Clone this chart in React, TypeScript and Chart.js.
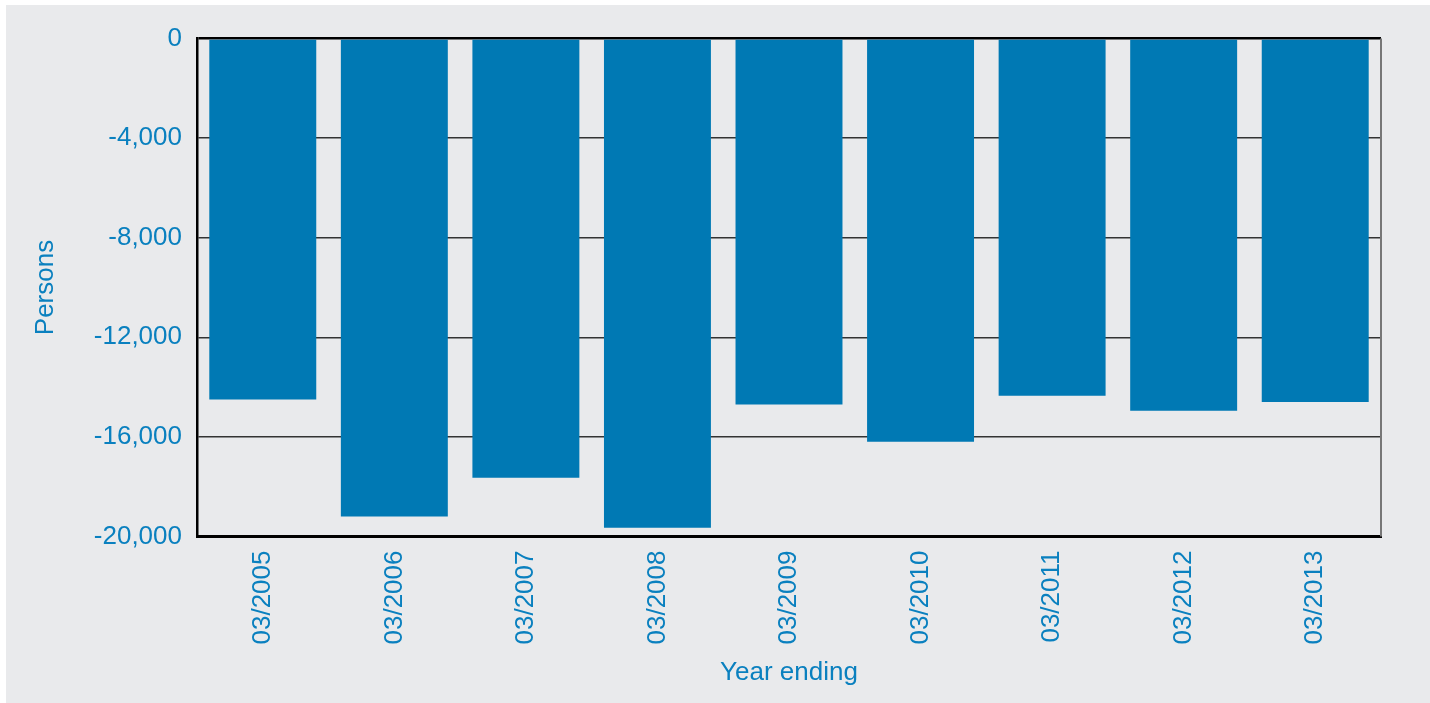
import React, { useEffect, useRef } from "react";
import { Chart, registerables } from "chart.js";

Chart.register(...registerables);

const categories = ["03/2005", "03/2006", "03/2007", "03/2008", "03/2009", "03/2010", "03/2011", "03/2012", "03/2013"];
const persons = [-14500, -19200, -17640, -19650, -14700, -16190, -14350, -14950, -14600];
const yMin = -20000;
const yMax = 0;
const yStep = 4000;

const BAR = "#0079b4";
const TEXT = "#0a80bf";
const BG = "#e9eaec";
const FONT = "'Liberation Sans', Arial, sans-serif";

const rightBorder = {
  id: "rightBorder",
  afterDraw(chart: any) {
    const { ctx, chartArea } = chart;
    ctx.save();
    ctx.strokeStyle = "#777777";
    ctx.lineWidth = 2;
    ctx.beginPath();
    ctx.moveTo(chartArea.right, chartArea.top);
    ctx.lineTo(chartArea.right, chartArea.bottom);
    ctx.stroke();
    ctx.restore();
  },
};

export default function App() {
  const ref = useRef<HTMLCanvasElement>(null);
  useEffect(() => {
    if (!ref.current) return;
    const chart = new Chart(ref.current, {
      type: "bar",
      data: {
        labels: categories,
        datasets: [
          {
            label: "Persons",
            data: persons,
            backgroundColor: BAR,
            borderWidth: 0,
            barPercentage: 0.813,
            categoryPercentage: 1,
          },
        ],
      },
      plugins: [rightBorder],
      options: {
        responsive: false,
        animation: false,
        layout: { padding: { left: 0, right: 49, top: 33.5, bottom: 0 } },
        plugins: {
          legend: { display: false },
          tooltip: { enabled: false },
        },
        scales: {
          x: {
            grid: { display: false, drawTicks: false },
            border: { display: true, color: "#000000", width: 3 },
            ticks: {
              color: TEXT,
              font: { family: FONT, size: 26 },
              minRotation: 90,
              maxRotation: 90,
              padding: 14,
              autoSkip: false,
            },
            title: {
              display: true,
              text: "Year ending",
              color: TEXT,
              font: { family: FONT, size: 26 },
              padding: { top: 0, bottom: 15 },
            },
            afterFit: (scale: any) => {
              scale.height = 166.5;
            },
          },
          y: {
            min: yMin,
            max: yMax,
            grid: {
              drawTicks: false,
              color: (c: any) => (c.tick && c.tick.value === 0 ? "#000000" : "#333333"),
              lineWidth: (c: any) => (c.tick && c.tick.value === 0 ? 2.5 : 1.5),
            },
            border: { display: true, color: "#000000", width: 2.5 },
            ticks: {
              stepSize: yStep,
              color: TEXT,
              font: { family: FONT, size: 26 },
              padding: 15,
              callback: (v: any) => Number(v).toLocaleString("en-US"),
            },
            title: {
              display: true,
              text: "Persons",
              color: TEXT,
              font: { family: FONT, size: 26 },
              padding: { top: 24, bottom: 0 },
            },
            afterFit: (scale: any) => {
              scale.width = 191;
            },
          },
        },
      },
    });
    return () => chart.destroy();
  }, []);

  return (
    <div style={{ position: "absolute", left: 0, top: 0, width: 1430, height: 703, background: "#ffffff", overflow: "hidden" }}>
      <canvas
        ref={ref}
        width={1424}
        height={698}
        style={{ position: "absolute", left: 6, top: 5, width: 1424, height: 698, background: BG }}
      />
    </div>
  );
}
